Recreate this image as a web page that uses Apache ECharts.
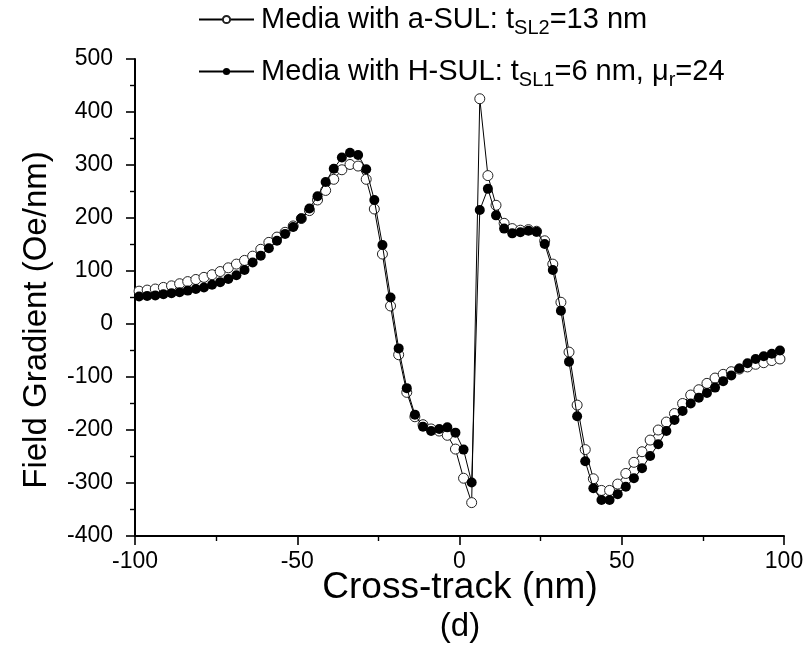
<!DOCTYPE html>
<html>
<head>
<meta charset="utf-8">
<script src="https://cdn.jsdelivr.net/npm/echarts@6/dist/echarts.min.js"></script>
<style>
  html, body { margin: 0; padding: 0; background: #fff; }
  #chart { width: 810px; height: 671px; }
</style>
</head>
<body>
<div id="chart"></div>
<script>
// Cross-track positions (nm): 80 samples, 2.5 nm apart
const crossTrack = [];
for (let i = 0; i < 80; i++) crossTrack.push(-98.75 + 2.5 * i);

// Field gradient (Oe/nm), media with amorphous SUL, t_SL2 = 13 nm
const gradASul = [
  62, 64, 66, 69, 72, 76, 80, 84, 88, 93,
  99, 106, 113, 120, 128, 141, 154, 164, 173, 185,
  199, 214, 234, 252, 273, 291, 301, 298, 273, 217,
  132, 34, -58, -129, -175, -190, -198, -202, -210, -236,
  -291, -337, 425, 280, 224, 190, 180, 177, 178, 175,
  157, 113, 41, -53, -153, -237, -292, -314, -314, -302,
  -282, -261, -241, -219, -200, -185, -169, -150, -134, -124,
  -112, -102, -95, -90, -85, -81, -76, -73, -69, -66
];

// Field gradient (Oe/nm), media with H-SUL, t_SL1 = 6 nm, mu_r = 24
const gradHSul = [
  52, 53, 54, 56, 58, 60, 63, 66, 69, 74,
  79, 85, 92, 102, 116, 129, 143, 157, 170, 183,
  199, 218, 241, 268, 293, 314, 323, 319, 292, 234,
  149, 50, -46, -121, -171, -194, -202, -198, -195, -205,
  -237, -299, 215, 255, 205, 180, 171, 173, 176, 174,
  151, 102, 25, -71, -174, -259, -310, -332, -332, -321,
  -307, -291, -272, -249, -227, -202, -181, -164, -150, -139,
  -130, -120, -108, -97, -84, -74, -66, -61, -56, -50
];

const xTicks = { min: -100, max: 100, step: 50 };
const yTicks = { min: -400, max: 500, step: 100 };

const nameA = 'Media with a-SUL';
const nameH = 'Media with H-SUL';

const pairs = (ys) => crossTrack.map((x, i) => [x, ys[i]]);

const FONT = 'Liberation Sans, Arial, sans-serif';
const legendRich = {
  main: { fontSize: 29, fontFamily: FONT, color: '#000' },
  sub: { fontSize: 20, fontFamily: FONT, color: '#000', padding: [17, 0, 0, 0] }
};

const chart = echarts.init(document.getElementById('chart'), null, { renderer: 'canvas' });

const axisCommon = {
  axisLine: { show: true, onZero: false, lineStyle: { color: '#000', width: 2 } },
  axisTick: { show: true, inside: false, length: 9, lineStyle: { color: '#000', width: 1.6 } },
  minorTick: { show: true, splitNumber: 2, length: 5, lineStyle: { color: '#000', width: 1.4 } },
  splitLine: { show: false },
  minorSplitLine: { show: false }
};

chart.setOption({
  animation: false,
  backgroundColor: '#fff',
  grid: { left: 135, right: 26, top: 59, bottom: 135, containLabel: false },
  legend: [
    {
      data: [nameA], left: 193, top: 0, itemWidth: 55, itemHeight: 9, itemGap: 0,
      formatter: () => '{main|Media with a-SUL: t}{sub|SL2}{main|=13 nm}',
      textStyle: { rich: legendRich, padding: [0, 0, 0, 2] }
    },
    {
      data: [nameH], left: 193, top: 52, itemWidth: 55, itemHeight: 9, itemGap: 0,
      formatter: () => '{main|Media with H-SUL: t}{sub|SL1}{main|=6 nm, μ}{sub|r}{main|=24}',
      textStyle: { rich: legendRich, padding: [0, 0, 0, 2] }
    }
  ],
  xAxis: Object.assign({
    type: 'value', min: xTicks.min, max: xTicks.max, interval: xTicks.step,
    axisLabel: { color: '#000', fontSize: 23, fontFamily: FONT, margin: 14 }
  }, axisCommon),
  yAxis: Object.assign({
    type: 'value', min: yTicks.min, max: yTicks.max, interval: yTicks.step,
    axisLabel: { color: '#000', fontSize: 23, fontFamily: FONT, margin: 22 }
  }, axisCommon),
  graphic: [
    {
      type: 'text', x: 37, y: 320, rotation: Math.PI / 2,
      style: {
        text: 'Field Gradient (Oe/nm)', fontSize: 33, fontFamily: FONT, fill: '#000',
        align: 'center', verticalAlign: 'middle'
      }
    },
    {
      type: 'text', x: 460, y: 588,
      style: {
        text: 'Cross-track (nm)', fontSize: 37, fontFamily: FONT, fill: '#000',
        align: 'center', verticalAlign: 'middle'
      }
    },
    {
      type: 'text', x: 460, y: 627,
      style: {
        text: '(d)', fontSize: 33, fontFamily: FONT, fill: '#000',
        align: 'center', verticalAlign: 'middle'
      }
    }
  ],
  series: [
    {
      name: nameA, type: 'line', data: pairs(gradASul),
      symbol: 'circle', symbolSize: 10, showAllSymbol: true,
      lineStyle: { color: '#000', width: 1 },
      itemStyle: { color: '#fff', borderColor: '#222', borderWidth: 1 },
      z: 2
    },
    {
      name: nameH, type: 'line', data: pairs(gradHSul),
      symbol: 'circle', symbolSize: 10, showAllSymbol: true,
      lineStyle: { color: '#000', width: 1 },
      itemStyle: { color: '#000', borderColor: '#000', borderWidth: 0 },
      z: 3
    }
  ]
});
</script>
</body>
</html>
